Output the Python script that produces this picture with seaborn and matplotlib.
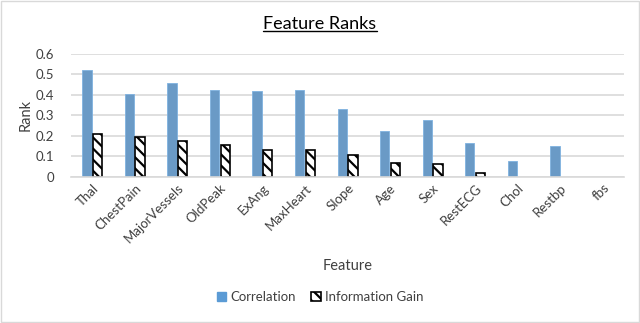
import pandas as pd
import numpy as np
import matplotlib
matplotlib.use('Agg')
import matplotlib.pyplot as plt
import seaborn as sns
from matplotlib.patches import Rectangle, Patch
from matplotlib.lines import Line2D

# values
features = ['Thal', 'ChestPain', 'MajorVessels', 'OldPeak', 'ExAng', 'MaxHeart',
            'Slope', 'Age', 'Sex', 'RestECG', 'Chol', 'Restbp', 'fbs']
correlation = [0.523, 0.404, 0.460, 0.424, 0.420, 0.424,
               0.331, 0.225, 0.277, 0.165, 0.080, 0.152, 0.0]
info_gain = [0.209, 0.196, 0.175, 0.155, 0.134, 0.134,
             0.109, 0.067, 0.062, 0.021, 0.0, 0.0, 0.0]
series = ['Correlation', 'Information Gain']

df = pd.DataFrame({
    'Feature': features * 2,
    'Rank': correlation + info_gain,
    'Series': [series[0]] * len(features) + [series[1]] * len(features),
})

sns.set_theme(style='white')
plt.rcParams['font.family'] = ['Lato', 'DejaVu Sans']
plt.rcParams['hatch.linewidth'] = 1.6

blue = '#5B9BD5'
grid_col = '#D9D9D9'
text_col = '#404040'

fig = plt.figure(figsize=(6.4, 3.23), dpi=100)
ax = fig.add_axes([0.111, 0.452, 0.864, 0.381])

sns.barplot(data=df, x='Feature', y='Rank', hue='Series', order=features,
            hue_order=series, palette=[blue, 'white'], width=0.5, gap=0.12,
            legend=False, ax=ax)

# hatched white bars with black edges for information gain
for bar in ax.containers[1]:
    bar.set_edgecolor('black')
    bar.set_linewidth(1.2 if bar.get_height() > 0 else 0)
    bar.set_hatch('\\\\\\')
for bar in ax.containers[0]:
    bar.set_edgecolor('#7FB2E0')
    bar.set_linewidth(0.6 if bar.get_height() > 0 else 0)

ax.set_ylim(0, 0.6)
ax.set_xlim(-0.5, len(features) - 0.5)
ax.set_yticks(np.arange(0, 0.61, 0.1))
ax.set_yticklabels(['0', '0.1', '0.2', '0.3', '0.4', '0.5', '0.6'])
ax.yaxis.grid(True, color=grid_col, linewidth=1.2)
ax.set_axisbelow(True)
for s in ['top', 'right', 'left']:
    ax.spines[s].set_visible(False)
ax.spines['bottom'].set_color(grid_col)
ax.spines['bottom'].set_linewidth(1.2)
ax.tick_params(axis='both', length=0, colors=text_col, labelsize=9.5)
ax.tick_params(axis='y', pad=12)
plt.setp(ax.get_xticklabels(), rotation=45, ha='right', rotation_mode='anchor')
ax.set_xlabel('Feature', fontsize=10.5, color=text_col, labelpad=10)
ax.set_ylabel('Rank', fontsize=10.5, color=text_col, labelpad=2)

# underlined title
title = fig.text(0.5, 0.925, 'Feature Ranks', ha='center', va='center',
                 fontsize=13, color='black')
fig.canvas.draw()
bb = title.get_window_extent().transformed(fig.transFigure.inverted())
fig.add_artist(Line2D([bb.x0, bb.x1], [bb.y0 + 0.003, bb.y0 + 0.003],
                      transform=fig.transFigure, color='black', linewidth=1))

handles = [Patch(facecolor=blue, edgecolor=blue),
           Patch(facecolor='white', edgecolor='black', hatch='\\\\\\', linewidth=1.2)]
fig.legend(handles, series, loc='center', bbox_to_anchor=(0.5, 0.08), ncol=2,
           frameon=False, fontsize=9.5, handlelength=0.7, handleheight=0.7,
           handletextpad=0.3, columnspacing=1.2, labelcolor=text_col)

# light border around chart area
fig.patches.append(Rectangle((0.002, 0.003), 0.996, 0.994, transform=fig.transFigure,
                             fill=False, edgecolor='#D9D9D9', linewidth=1))

fig.savefig('out.png', dpi=100)
